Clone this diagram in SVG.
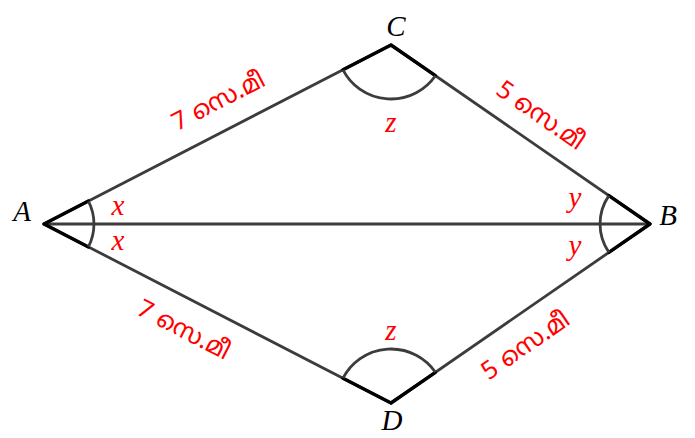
<svg xmlns="http://www.w3.org/2000/svg" width="695" height="438" viewBox="0 0 695 438">
<style>
.edge{stroke:#3c3c3c;stroke-width:2.8;fill:none;stroke-linecap:round}
.mark{stroke:#000;stroke-width:3.4;fill:none;stroke-linecap:round;stroke-linejoin:round}
.arc{stroke:#3c3c3c;stroke-width:2.8;fill:none}
.vl{font-family:"Liberation Serif",serif;font-style:italic;font-size:29px;fill:#000;text-anchor:middle}
.al{font-family:"Liberation Serif",serif;font-style:italic;font-size:29px;fill:#ff0000;text-anchor:middle}
.len{font-family:"Noto Sans Malayalam","Noto Sans","DejaVu Sans",sans-serif;font-size:25px;fill:#ff0000;text-anchor:middle}
</style>
<rect width="695" height="438" fill="#fff"/>
<g id="connectors">
<line class="edge" x1="44" y1="224" x2="391" y2="45"/>
<line class="edge" x1="391" y1="45" x2="650" y2="224"/>
<line class="edge" x1="650" y1="224" x2="391" y2="403"/>
<line class="edge" x1="391" y1="403" x2="44" y2="224"/>
<line class="edge" x1="44" y1="224" x2="650" y2="224"/>
</g>
<g id="angles">
<path class="mark" d="M88.4,201.1 L44,224 L88.4,246.9"/>
<path class="arc" d="M88.4,201.1 A50,50 0 0 1 88.4,246.9"/>
<path class="mark" d="M608.9,195.6 L650,224 L608.9,252.4"/>
<path class="arc" d="M608.9,195.6 A50,50 0 0 0 608.9,252.4"/>
<path class="mark" d="M343,69.8 L391,45 L435.4,75.7"/>
<path class="arc" d="M343,69.8 A54,54 0 0 0 435.4,75.7"/>
<path class="mark" d="M343,378.2 L391,403 L435.4,372.3"/>
<path class="arc" d="M343,378.2 A54,54 0 0 1 435.4,372.3"/>
</g>
<g id="A"><text class="vl" x="22" y="221">A</text></g>
<g id="B"><text class="vl" x="668" y="225">B</text></g>
<g id="C"><text class="vl" x="396" y="36">C</text></g>
<g id="D"><text class="vl" x="392" y="430">D</text></g>
<g id="angle-labels">
<text class="al" x="118" y="215">x</text>
<text class="al" x="118" y="250">x</text>
<text class="al" x="575" y="207">y</text>
<text class="al" x="575" y="255">y</text>
<text class="al" x="391" y="132">z</text>
<text class="al" x="391" y="340">z</text>
</g>
<g id="lengths">
<text class="len" transform="translate(222,108) rotate(-27.3)">7 സെ.മീ</text>
<text class="len" transform="translate(536,122) rotate(34.6)">5 സെ.മീ</text>
<text class="len" transform="translate(180,337) rotate(27.3)">7 സെ.മീ</text>
<text class="len" transform="translate(530,352) rotate(-34.6)">5 സെ.മീ</text>
</g>
</svg>
